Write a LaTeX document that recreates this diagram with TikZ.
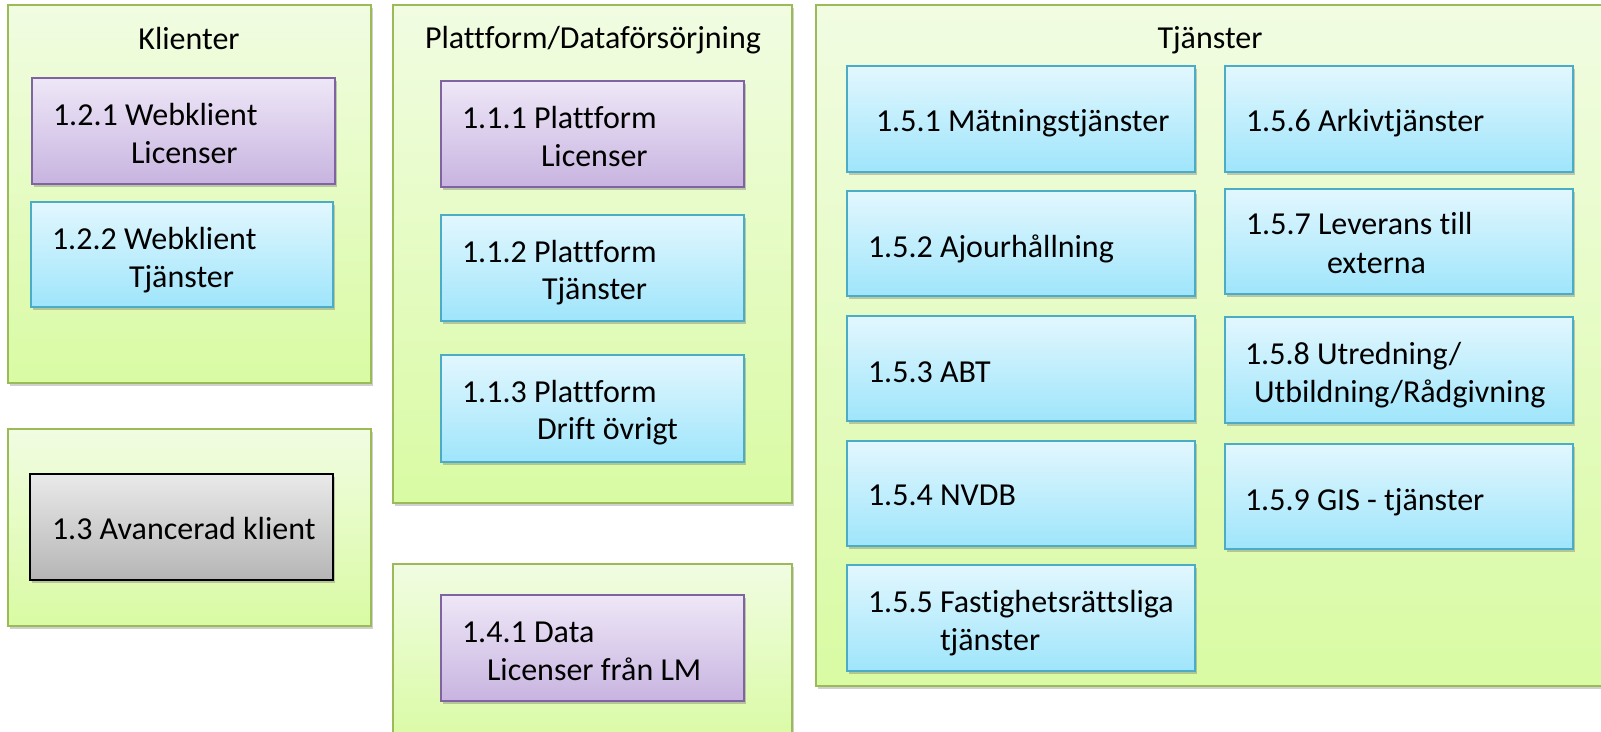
\documentclass[tikz,border=0pt]{standalone}
\usepackage{fontspec}
\setmainfont{Carlito}[Ligatures=NoCommon]
\usetikzlibrary{shadows}
\definecolor{grnB}{HTML}{9BBB59}
\definecolor{grnT}{HTML}{F1FCE2}
\definecolor{grnL}{HTML}{D9FBA3}
\definecolor{purB}{HTML}{8064A2}
\definecolor{purT}{HTML}{EEE7F7}
\definecolor{purL}{HTML}{C8B4E0}
\definecolor{bluB}{HTML}{4BACC6}
\definecolor{bluT}{HTML}{E2F7FE}
\definecolor{bluL}{HTML}{9FE5FB}
\definecolor{gryT}{HTML}{EAEAEA}
\definecolor{gryL}{HTML}{B5B5B5}
\newcommand\rbox[6]{%
  \node[#1, minimum width={(#5-#3)*1pt}, minimum height={(#6-#4)*1pt}] (#2) at ({(#3+#5)/2},{(#4+#6)/2}) {};}
\begin{document}
\begin{tikzpicture}[x=1pt,y=-1pt,
  every node/.style={inner sep=0pt, outer sep=0pt},
  container/.style={rectangle, draw=grnB, line width=1.6pt, top color=grnT, bottom color=grnL,
    drop shadow={shadow xshift=1.5pt, shadow yshift=-3pt, opacity=0.3, fill=black!60}},
  purbox/.style={rectangle, draw=purB, line width=1.6pt, top color=purT, bottom color=purL,
    drop shadow={shadow xshift=2pt, shadow yshift=-3pt, opacity=0.35, fill=black!60}},
  blubox/.style={rectangle, draw=bluB, line width=1.6pt, top color=bluT, bottom color=bluL,
    drop shadow={shadow xshift=2pt, shadow yshift=-3pt, opacity=0.35, fill=black!60}},
  grybox/.style={rectangle, draw=black, line width=1.6pt, top color=gryT, bottom color=gryL,
    drop shadow={shadow xshift=2pt, shadow yshift=-3pt, opacity=0.35, fill=black!60}},
  txt/.style={anchor=base west, yshift=-2pt, font=\fontsize{32}{38}\selectfont},
  title/.style={anchor=base, yshift=-2pt, font=\fontsize{32}{38}\selectfont}]
\useasboundingbox (0,0) rectangle (1601,731);
\fill[white] (0,0) rectangle (1601,731);
% containers
\rbox{container}{cKl}{8}{5}{371}{383}
\rbox{container}{cAv}{8}{429}{371}{626}
\rbox{container}{cPl}{393}{5}{792}{503}
\rbox{container}{cDa}{393}{564}{792}{745}
\rbox{container}{cTj}{816}{5}{1615}{686}
\node[title] (tKl) at (189,47) {Klienter};
\node[title] (tPl) at (593,46) {Plattform/Dataförsörjning};
\node[title] (tTj) at (1210,46) {Tjänster};
% Klienter
\rbox{purbox}{b121}{32}{78}{335}{184}
\node[txt] (l121a) at (53,123) {1.2.1 Webklient};
\node[txt] (l121b) at (131,161) {Licenser};
\rbox{blubox}{b122}{31}{202}{333}{307}
\node[txt] (l122a) at (52,247) {1.2.2 Webklient};
\node[txt] (l122b) at (129,285) {Tjänster};
% Avancerad
\rbox{grybox}{b13}{30}{474}{333}{580}
\node[txt] (l13) at (52,537) {1.3 Avancerad klient};
% Plattform
\rbox{purbox}{b111}{441}{81}{744}{187}
\node[txt] (l111a) at (462,126) {1.1.1 Plattform};
\node[txt] (l111b) at (541,164) {Licenser};
\rbox{blubox}{b112}{441}{215}{744}{321}
\node[txt] (l112a) at (462,260) {1.1.2 Plattform};
\node[txt] (l112b) at (542,297) {Tjänster};
\rbox{blubox}{b113}{441}{355}{744}{462}
\node[txt] (l113a) at (462,400) {1.1.3 Plattform};
\node[txt] (l113b) at (537,437) {Drift övrigt};
% Data
\rbox{purbox}{b141}{441}{595}{744}{701}
\node[txt] (l141a) at (462,640) {1.4.1 Data};
\node[txt] (l141b) at (487,678) {Licenser från LM};
% Tjanster left column
\rbox{blubox}{b151}{847}{66}{1195}{172}
\node[txt] (l151) at (876,129) {1.5.1 Mätningstjänster};
\rbox{blubox}{b152}{847}{191}{1195}{296}
\node[txt] (l152) at (868,255) {1.5.2 Ajourhållning};
\rbox{blubox}{b153}{847}{316}{1195}{421}
\node[txt] (l153) at (868,380) {1.5.3 ABT};
\rbox{blubox}{b154}{847}{441}{1195}{546}
\node[txt] (l154) at (868,503) {1.5.4 NVDB};
\rbox{blubox}{b155}{847}{565}{1195}{671}
\node[txt] (l155a) at (868,610) {1.5.5 Fastighetsrättsliga};
\node[txt] (l155b) at (940,648) {tjänster};
% right column
\rbox{blubox}{b156}{1225}{66}{1573}{172}
\node[txt] (l156) at (1246,129) {1.5.6 Arkivtjänster};
\rbox{blubox}{b157}{1225}{189}{1573}{294}
\node[txt] (l157a) at (1246,232) {1.5.7 Leverans till};
\node[txt] (l157b) at (1327,271) {externa};
\rbox{blubox}{b158}{1225}{317}{1573}{423}
\node[txt] (l158a) at (1245,362) {1.5.8 Utredning/};
\node[txt] (l158b) at (1254,400) {Utbildning/Rådgivning};
\rbox{blubox}{b159}{1225}{444}{1573}{549}
\node[txt] (l159) at (1245,508) {1.5.9 GIS - tjänster};
\end{tikzpicture}
\end{document}
